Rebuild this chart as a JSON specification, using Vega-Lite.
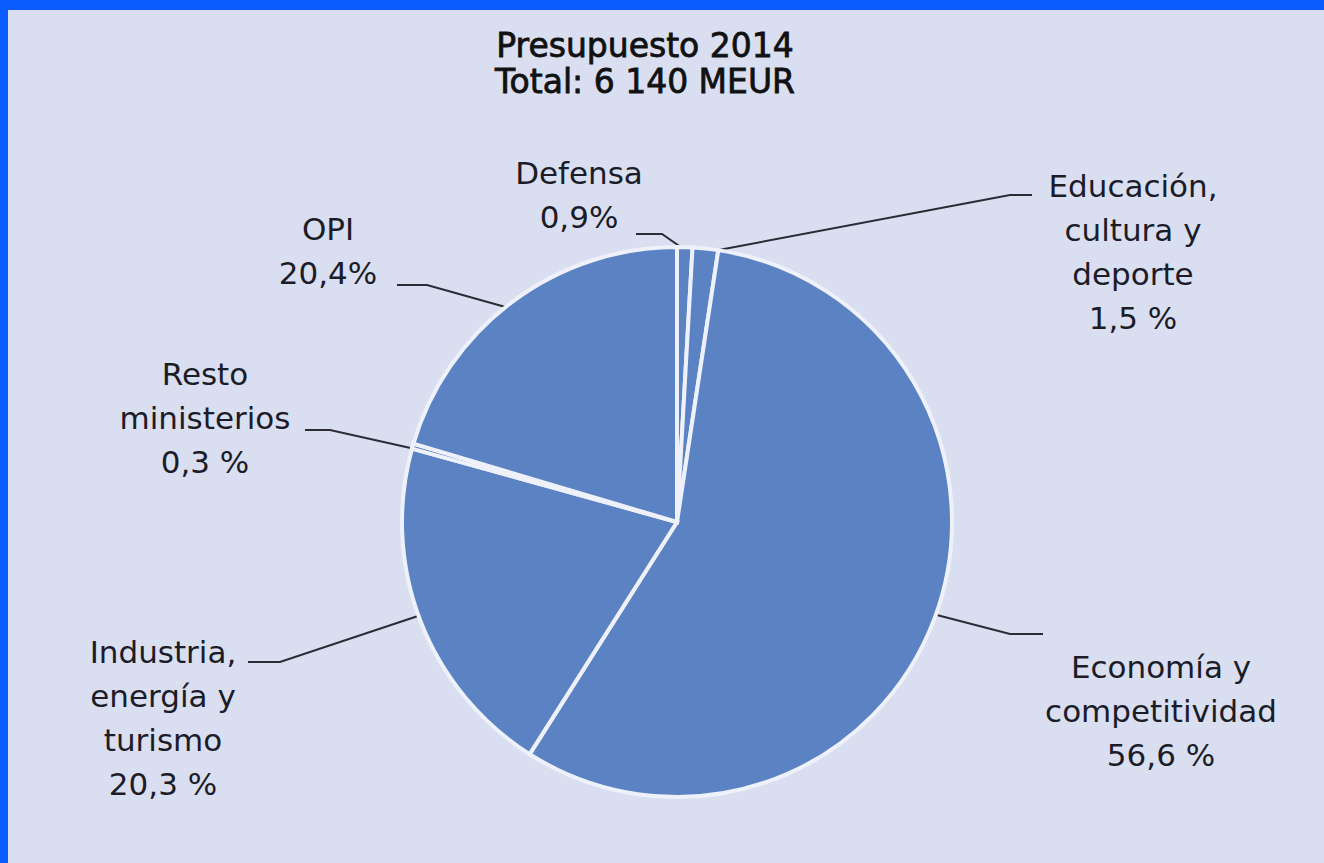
{
  "$schema": "https://vega.github.io/schema/vega-lite/v6.json",
  "autosize": {"type": "fit", "contains": "padding"},
  "width": 1324,
  "height": 863,
  "padding": {"left": 8, "top": 10, "right": -10, "bottom": -6},
  "background": "#0a5cff",
  "config": {"view": {"fill": "#d9dff1", "stroke": null}},
  "datasets": {
    "slices": [
      {"name": "Defensa", "pct": 0.9, "order": 1, "x": 0, "y": 0},
      {"name": "Educación, cultura y deporte", "pct": 1.5, "order": 2, "x": 0, "y": 0},
      {"name": "Economía y competitividad", "pct": 56.6, "order": 3, "x": 0, "y": 0},
      {"name": "Industria, energía y turismo", "pct": 20.3, "order": 4, "x": 0, "y": 0},
      {"name": "Resto ministerios", "pct": 0.3, "order": 5, "x": 0, "y": 0},
      {"name": "OPI", "pct": 20.4, "order": 6, "x": 0, "y": 0}
    ],
    "leaders": [
      {"name": "Defensa", "pt": 1, "x": -41, "y": 288},
      {"name": "Defensa", "pt": 2, "x": -15, "y": 288},
      {"name": "Defensa", "pt": 3, "x": 8, "y": 272},
      {"name": "Educación", "pt": 1, "x": 355, "y": 327},
      {"name": "Educación", "pt": 2, "x": 333, "y": 327},
      {"name": "Educación", "pt": 3, "x": 31, "y": 270},
      {"name": "Economía", "pt": 1, "x": 366, "y": -112},
      {"name": "Economía", "pt": 2, "x": 333, "y": -112},
      {"name": "Economía", "pt": 3, "x": 256, "y": -92},
      {"name": "Industria", "pt": 1, "x": -429, "y": -140},
      {"name": "Industria", "pt": 2, "x": -397, "y": -140},
      {"name": "Industria", "pt": 3, "x": -256, "y": -93},
      {"name": "Resto", "pt": 1, "x": -372, "y": 92},
      {"name": "Resto", "pt": 2, "x": -347, "y": 92},
      {"name": "Resto", "pt": 3, "x": -262, "y": 73},
      {"name": "OPI", "pt": 1, "x": -280, "y": 237},
      {"name": "OPI", "pt": 2, "x": -250, "y": 237},
      {"name": "OPI", "pt": 3, "x": -168, "y": 214}
    ],
    "labels": [
      {"label": "Defensa\n0,9%", "x": -98, "y": 338},
      {"label": "Educación,\ncultura y\ndeporte\n1,5 %", "x": 456, "y": 325},
      {"label": "Economía y\ncompetitividad\n56,6 %", "x": 484, "y": -156},
      {"label": "Industria,\nenergía y\nturismo\n20,3 %", "x": -514, "y": -141},
      {"label": "Resto\nministerios\n0,3 %", "x": -472, "y": 137},
      {"label": "OPI\n20,4%", "x": -349, "y": 282}
    ],
    "title": [
      {"label": "Presupuesto 2014\nTotal: 6 140 MEUR", "x": -32, "y": 465}
    ]
  },
  "encoding": {
    "x": {"field": "x", "type": "quantitative", "scale": {"domain": [-669, 657], "nice": false, "zero": false}, "axis": null},
    "y": {"field": "y", "type": "quantitative", "scale": {"domain": [-347, 512], "nice": false, "zero": false}, "axis": null}
  },
  "layer": [
    {
      "data": {"name": "leaders"},
      "mark": {"type": "line", "stroke": "#2b2b35", "strokeWidth": 2},
      "encoding": {"detail": {"field": "name"}, "order": {"field": "pt"}}
    },
    {
      "data": {"name": "slices"},
      "mark": {"type": "arc", "outerRadius": 275, "fill": "#5b82c2", "stroke": "#eef1fa", "strokeWidth": 4},
      "encoding": {
        "theta": {"field": "pct", "type": "quantitative", "stack": true},
        "order": {"field": "order"}
      }
    },
    {
      "data": {"name": "labels"},
      "mark": {"type": "text", "align": "center", "baseline": "alphabetic", "lineBreak": "\n", "lineHeight": 44, "font": "DejaVu Sans", "fontSize": 31, "fill": "#1c1c28"},
      "encoding": {"text": {"field": "label"}}
    },
    {
      "data": {"name": "title"},
      "mark": {"type": "text", "align": "center", "baseline": "alphabetic", "lineBreak": "\n", "lineHeight": 36, "font": "DejaVu Sans", "fontSize": 33, "fill": "#111111", "stroke": "#111111", "strokeWidth": 0.8},
      "encoding": {"text": {"field": "label"}}
    }
  ]
}
